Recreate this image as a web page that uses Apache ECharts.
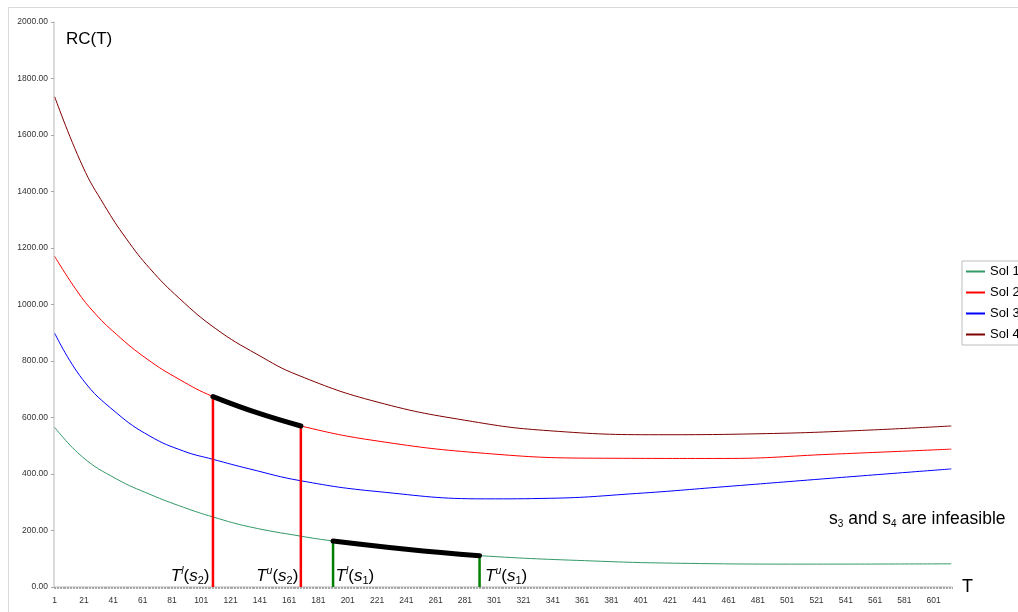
<!DOCTYPE html>
<html>
<head>
<meta charset="utf-8">
<script src="https://cdn.jsdelivr.net/npm/echarts@6/dist/echarts.min.js"></script>
<style>
  html, body { margin: 0; padding: 0; background: #fff; }
  #chart { width: 1018px; height: 612px; }
</style>
</head>
<body>
<div id="chart"></div>
<script>
// Planning horizon T runs over categories 1..613; a label every 20th category.
const T_MAX = 613;
const LABEL_STEP = 20;
const categories = [];
for (let t = 1; t <= T_MAX; t++) categories.push(String(t));

// RC(T) for each solution, sampled as [T, RC] pairs.
const sol1 = [[1,565],[20,460],[43,383],[66,328],[89,282],[109,248],[134,213],[169,180],[191,163],[241,134],[291,111],[369,92],[428,84],[517,81],[613,82]];
const sol2 = [[1,1170],[15,1057],[27,977],[43,895],[64,807],[86,735],[109,674],[139,617],[169,570],[221,517],[295,473],[369,456],[458,455],[531,470],[613,488]];
const sol3 = [[1,898],[20,735],[43,617],[66,534],[89,481],[109,452],[134,418],[169,376],[221,338],[295,312],[339,314],[398,331],[458,355],[531,385],[613,418]];
const sol4 = [[1,1735],[20,1490],[35,1350],[50,1232],[66,1127],[86,1022],[111,914],[139,824],[167,750],[221,655],[286,586],[339,553],[413,539],[487,543],[546,553],[613,570]];

// Feasible ranges [T^l, T^u] of s2 and s1.
const rangeS2 = [109, 169];
const rangeS1 = [191, 291];

const FONT = '"Liberation Sans", Arial, sans-serif';
const COLORS = { sol1: '#339966', sol2: '#ff0000', sol3: '#0000ff', sol4: '#800000', bound1: '#008000' };

function toPairs(arr) { return arr.map(p => [String(p[0]), p[1]]); }
function valueAt(arr, t) { return arr.find(p => p[0] === t)[1]; }
function within(arr, r) { return arr.filter(p => p[0] >= r[0] && p[0] <= r[1]); }

const richT = {
  i: { fontFamily: FONT, fontStyle: 'italic', fontSize: 17, lineHeight: 20, color: '#000' },
  n: { fontFamily: FONT, fontSize: 17, lineHeight: 20, color: '#000' },
  sup: { fontFamily: FONT, fontStyle: 'italic', fontSize: 10.5, lineHeight: 10, verticalAlign: 'top', color: '#000' },
  sub: { fontFamily: FONT, fontSize: 11, lineHeight: 9, verticalAlign: 'bottom', color: '#000' }
};

// Vertical marker from the axis up to the curve at T, with its T^l / T^u label at the foot.
function boundSeries(arr, t, color, bound, sol, side, gap) {
  const text = '{i|T}{sup|' + bound + '}{n|(}{i|s}{sub|' + sol + '}{n|)}';
  return {
    type: 'line',
    silent: true,
    clip: false,
    showSymbol: true,
    showAllSymbol: true,
    symbol: 'circle',
    symbolSize: 1,
    itemStyle: { color: 'rgba(0,0,0,0)' },
    lineStyle: { color: color, width: 2.5 },
    z: 3,
    data: [
      { value: [String(t), 0], label: { show: true, position: side, distance: gap, offset: [0, -11], formatter: text, rich: richT } },
      [String(t), valueAt(arr, t)]
    ]
  };
}

function curve(name, arr, color) {
  return {
    name: name, type: 'line', data: toPairs(arr), smooth: 0.45,
    symbol: 'none', silent: true, z: 2,
    lineStyle: { color: color, width: 1 }, itemStyle: { color: color }
  };
}

function thick(arr, r) {
  return {
    type: 'line', data: toPairs(within(arr, r)), smooth: 0.45,
    symbol: 'none', silent: true, z: 4,
    lineStyle: { color: '#000', width: 5, cap: 'round' }
  };
}

const LEGEND_NAMES = ['Sol 1', 'Sol 2', 'Sol 3', 'Sol 4'];
const LEGEND_COLORS = [COLORS.sol1, COLORS.sol2, COLORS.sol3, COLORS.sol4];
const LINE_ICON = 'path://M0,0H19V2H0Z';

const chart = echarts.init(document.getElementById('chart'));
chart.setOption({
  animation: false,
  backgroundColor: '#fff',
  textStyle: { fontFamily: FONT },
  grid: { left: 54, right: 66, top: 22, bottom: 25, containLabel: false },
  legend: {
    data: LEGEND_NAMES.map((n, i) => ({ name: n, icon: LINE_ICON, itemStyle: { color: LEGEND_COLORS[i], borderWidth: 0 } })),
    orient: 'vertical', left: 962, top: 261,
    padding: [4, 30, 4, 4], itemGap: 8, itemWidth: 19, itemHeight: 14,
    symbolKeepAspect: true,
    itemStyle: { borderWidth: 0 },
    borderColor: '#bdbdbd', borderWidth: 1,
    textStyle: { fontSize: 13, color: '#000', fontFamily: FONT },
    selectedMode: false
  },
  xAxis: {
    type: 'category', data: categories, boundaryGap: true,
    name: 'T', nameLocation: 'end', nameGap: 10,
    nameTextStyle: { fontSize: 18, color: '#000', fontFamily: FONT },
    axisLine: { lineStyle: { color: '#cfcfcf', width: 1.5 } },
    axisTick: { show: true, interval: 0, length: 2, lineStyle: { color: '#a8a8a8', width: 1 } },
    axisLabel: { interval: LABEL_STEP - 1, fontSize: 8.5, color: '#333', margin: 9 },
    splitLine: { show: false }
  },
  yAxis: {
    type: 'value', min: 0, max: 2000, interval: 200,
    axisLine: { show: true, lineStyle: { color: '#cfcfcf', width: 1.5 } },
    axisTick: { show: true, length: 3, lineStyle: { color: '#a8a8a8' } },
    axisLabel: { fontSize: 8.5, color: '#333', margin: 6, formatter: v => v.toFixed(2) },
    splitLine: { show: false }
  },
  graphic: [
    { type: 'rect', silent: true, z: -10, shape: { x: 8.5, y: 7.5, width: 1100, height: 700 },
      style: { fill: null, stroke: '#d9d9d9', lineWidth: 1 } },
    { type: 'text', left: 66, top: 31, style: { text: 'RC(T)', font: '17px ' + FONT, fill: '#000' } },
    { type: 'text', x: 829, y: 519, style: {
        text: '{n|s}{sub|3}{n| and s}{sub|4}{n| are infeasible}',
        verticalAlign: 'middle',
        rich: {
          n: { fontFamily: FONT, fontSize: 17.5, lineHeight: 20, color: '#000' },
          sub: { fontFamily: FONT, fontSize: 10, lineHeight: 9, verticalAlign: 'bottom', color: '#000' }
        }
      } }
  ],
  series: [
    curve('Sol 1', sol1, COLORS.sol1),
    curve('Sol 2', sol2, COLORS.sol2),
    curve('Sol 3', sol3, COLORS.sol3),
    curve('Sol 4', sol4, COLORS.sol4),
    boundSeries(sol2, rangeS2[0], COLORS.sol2, 'l', 2, 'left', 3),
    boundSeries(sol2, rangeS2[1], COLORS.sol2, 'u', 2, 'left', 2),
    boundSeries(sol1, rangeS1[0], COLORS.bound1, 'l', 1, 'right', 2),
    boundSeries(sol1, rangeS1[1], COLORS.bound1, 'u', 1, 'right', 5),
    thick(sol2, rangeS2),
    thick(sol1, rangeS1)
  ]
});
</script>
</body>
</html>
